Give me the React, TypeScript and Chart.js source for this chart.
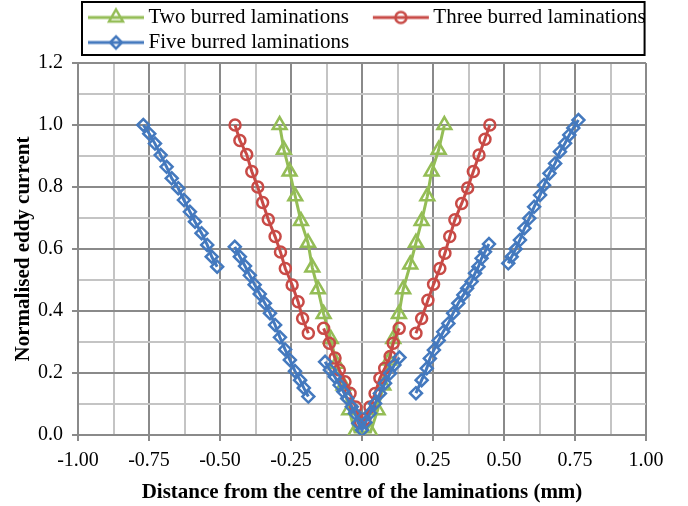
import React, { useEffect, useRef } from 'react';
import { Chart, registerables } from 'chart.js';

Chart.register(...registerables);

const FONT = "'Liberation Serif', 'Times New Roman', Times, serif";

const X_TITLE = 'Distance from the centre of the laminations (mm)';
const Y_TITLE = 'Normalised eddy current';
const SERIES_LABELS = ['Two burred laminations', 'Three burred laminations', 'Five burred laminations'];

const X_MIN = -1;
const X_MAX = 1;
const X_MINOR_STEP = 0.125;
const X_MAJOR_STEP = 0.25;
const Y_MIN = 0;
const Y_MAX = 1.2;
const Y_MINOR_STEP = 0.1;
const Y_MAJOR_STEP = 0.2;

// Two burred laminations (one continuous V)
const twoX = [-0.29, -0.275, -0.255, -0.235, -0.215, -0.19, -0.175, -0.155, -0.135, -0.11, -0.09, -0.065, -0.045, -0.025,
  0.03, 0.055, 0.075, 0.095, 0.11, 0.13, 0.145, 0.17, 0.19, 0.21, 0.23, 0.245, 0.27, 0.29];
const twoY = [1.0, 0.92, 0.85, 0.77, 0.69, 0.62, 0.54, 0.47, 0.39, 0.31, 0.23, 0.16, 0.08, 0.01,
  0.01, 0.08, 0.16, 0.24, 0.31, 0.39, 0.47, 0.55, 0.62, 0.69, 0.77, 0.85, 0.92, 1.0];

// Three burred laminations (three segments)
const threeOuterLeftX = [-0.447, -0.43, -0.406, -0.388, -0.367, -0.35, -0.33, -0.306, -0.287, -0.27, -0.246, -0.225, -0.209, -0.189];
const threeOuterLeftY = [1.0, 0.95, 0.905, 0.85, 0.8, 0.75, 0.695, 0.64, 0.59, 0.537, 0.484, 0.43, 0.376, 0.328];
const threeMiddleX = [-0.135, -0.115, -0.095, -0.08, -0.06, -0.042, -0.022, -0.005, 0.01, 0.028, 0.046, 0.063, 0.08, 0.099, 0.11, 0.131];
const threeMiddleY = [0.344, 0.296, 0.248, 0.21, 0.172, 0.135, 0.09, 0.04, 0.05, 0.09, 0.134, 0.183, 0.215, 0.253, 0.296, 0.344];
const threeOuterRightX = [0.19, 0.21, 0.232, 0.252, 0.274, 0.292, 0.309, 0.327, 0.351, 0.372, 0.392, 0.412, 0.433, 0.45];
const threeOuterRightY = [0.328, 0.376, 0.435, 0.486, 0.537, 0.586, 0.64, 0.694, 0.747, 0.797, 0.85, 0.903, 0.954, 1.0];

// Five burred laminations (five segments)
const fiveOuterLeftX = [-0.77, -0.749, -0.729, -0.709, -0.688, -0.67, -0.647, -0.627, -0.606, -0.588, -0.565, -0.545, -0.529, -0.51];
const fiveOuterLeftY = [1.0, 0.972, 0.94, 0.903, 0.865, 0.828, 0.796, 0.758, 0.72, 0.688, 0.651, 0.613, 0.575, 0.543];
const fiveInnerLeftX = [-0.448, -0.43, -0.412, -0.395, -0.378, -0.36, -0.342, -0.324, -0.306, -0.289, -0.271, -0.254, -0.236, -0.218, -0.205, -0.189];
const fiveInnerLeftY = [0.607, 0.575, 0.545, 0.515, 0.485, 0.455, 0.425, 0.393, 0.355, 0.315, 0.276, 0.242, 0.206, 0.177, 0.152, 0.124];
const fiveMiddleX = [-0.13, -0.113, -0.096, -0.079, -0.066, -0.052, -0.036, -0.025, -0.013, 0.0, 0.012, 0.028, 0.046, 0.063, 0.081, 0.099, 0.114, 0.132];
const fiveMiddleY = [0.236, 0.21, 0.188, 0.161, 0.14, 0.118, 0.091, 0.07, 0.038, 0.016, 0.04, 0.07, 0.102, 0.134, 0.167, 0.199, 0.226, 0.25];
const fiveInnerRightX = [0.19, 0.21, 0.228, 0.239, 0.253, 0.27, 0.286, 0.304, 0.321, 0.339, 0.357, 0.37, 0.386, 0.398, 0.41, 0.421, 0.433, 0.447];
const fiveInnerRightY = [0.135, 0.177, 0.215, 0.247, 0.274, 0.305, 0.333, 0.36, 0.393, 0.425, 0.452, 0.473, 0.495, 0.522, 0.543, 0.57, 0.591, 0.616];
const fiveOuterRightX = [0.515, 0.527, 0.541, 0.556, 0.572, 0.589, 0.606, 0.627, 0.641, 0.66, 0.68, 0.697, 0.715, 0.73, 0.744, 0.762];
const fiveOuterRightY = [0.554, 0.575, 0.6, 0.629, 0.667, 0.699, 0.736, 0.774, 0.806, 0.844, 0.876, 0.914, 0.941, 0.968, 0.99, 1.016];

const GREEN = '#94BD56';
const RED = '#C84A46';
const BLUE = '#4479BE';
const GRID_MAJOR = '#8a8a8a';
const GRID_MINOR = '#c4c4c4';

type Seg = { x: number[]; y: number[] };

const toData = (segs: Seg[]) => {
  const out: any[] = [];
  segs.forEach((s, i) => {
    if (i > 0) out.push({ x: null, y: null });
    s.x.forEach((x, j) => out.push({ x, y: s.y[j] }));
  });
  return out;
};

const isMultiple = (v: number, step: number) => Math.abs(v / step - Math.round(v / step)) < 1e-6;

const makeLegendImage = (color: string, style: string) => {
  const c = document.createElement('canvas');
  c.width = 88;
  c.height = 22;
  const g = c.getContext('2d')!;
  g.strokeStyle = color;
  g.lineWidth = 3;
  g.beginPath();
  g.moveTo(29, 11);
  g.lineTo(85, 11);
  g.stroke();
  g.lineWidth = 2.5;
  const cx = 57;
  const cy = 11;
  g.beginPath();
  if (style === 'triangle') {
    const r = 8;
    g.moveTo(cx, cy - r);
    g.lineTo(cx + r * 0.866, cy + r * 0.5);
    g.lineTo(cx - r * 0.866, cy + r * 0.5);
    g.closePath();
  } else if (style === 'circle') {
    g.arc(cx, cy, 5.5, 0, Math.PI * 2);
  } else {
    const r = 6;
    g.moveTo(cx, cy - r);
    g.lineTo(cx + r, cy);
    g.lineTo(cx, cy + r);
    g.lineTo(cx - r, cy);
    g.closePath();
  }
  g.stroke();
  return c;
};

const legendShiftPlugin = {
  id: 'legendShift',
  afterLayout(chart: any) {
    const lg = chart.legend;
    if (lg) {
      lg.left = 64;
      lg.right = chart.width;
    }
  },
  afterDraw(chart: any) {
    const lg = chart.legend;
    if (!lg || !lg.legendHitBoxes || !lg.legendHitBoxes.length) return;
    const hb = lg.legendHitBoxes;
    const left = hb[0].left + 14;
    const right = Math.max(...hb.map((h: any) => h.left + h.width)) - 1;
    const top = hb[0].top - 5;
    const last = hb[hb.length - 1];
    const bottom = last.top + last.height + 2;
    const ctx = chart.ctx;
    ctx.save();
    ctx.strokeStyle = '#000';
    ctx.lineWidth = 2;
    ctx.strokeRect(left, top, right - left, bottom - top);
    ctx.restore();
  },
};

export default function App() {
  const ref = useRef<HTMLCanvasElement | null>(null);

  useEffect(() => {
    if (!ref.current) return;
    const legendImages = [
      makeLegendImage(GREEN, 'triangle'),
      makeLegendImage(RED, 'circle'),
      makeLegendImage(BLUE, 'diamond'),
    ];
    const chart = new Chart(ref.current, {
      type: 'line',
      data: {
        datasets: [
          {
            label: SERIES_LABELS[0],
            data: toData([{ x: twoX, y: twoY }]),
            borderColor: GREEN,
            borderWidth: 3,
            pointStyle: 'triangle',
            pointRadius: 8,
            pointBorderWidth: 2.5,
            pointBorderColor: GREEN,
            pointBackgroundColor: 'rgba(0,0,0,0)',
            order: 3,
          },
          {
            label: SERIES_LABELS[1],
            data: toData([
              { x: threeOuterLeftX, y: threeOuterLeftY },
              { x: threeMiddleX, y: threeMiddleY },
              { x: threeOuterRightX, y: threeOuterRightY },
            ]),
            borderColor: RED,
            borderWidth: 3,
            pointStyle: 'circle',
            pointRadius: 5.5,
            pointBorderWidth: 2.5,
            pointBorderColor: RED,
            pointBackgroundColor: 'rgba(0,0,0,0)',
            order: 2,
          },
          {
            label: SERIES_LABELS[2],
            data: toData([
              { x: fiveOuterLeftX, y: fiveOuterLeftY },
              { x: fiveInnerLeftX, y: fiveInnerLeftY },
              { x: fiveMiddleX, y: fiveMiddleY },
              { x: fiveInnerRightX, y: fiveInnerRightY },
              { x: fiveOuterRightX, y: fiveOuterRightY },
            ]),
            borderColor: BLUE,
            borderWidth: 3,
            pointStyle: 'rectRot',
            pointRadius: 6,
            pointBorderWidth: 2.5,
            pointBorderColor: BLUE,
            pointBackgroundColor: 'rgba(0,0,0,0)',
            order: 1,
          },
        ] as any,
      },
      options: {
        animation: false,
        responsive: false,
        events: [],
        spanGaps: false,
        elements: { line: { tension: 0 } },
        layout: { padding: { left: 0, right: 42, top: 3, bottom: 0 } },
        plugins: {
          tooltip: { enabled: false },
          legend: {
            display: true,
            position: 'top',
            align: 'start',
            labels: {
              usePointStyle: true,
              pointStyleWidth: 70,
              padding: 4,
              color: '#000',
              textAlign: 'left',
              font: { family: FONT, size: 21 },
              generateLabels: (ch: any) =>
                ch.data.datasets.map((ds: any, i: number) => ({
                  text: ds.label,
                  pointStyle: legendImages[i],
                  fillStyle: 'rgba(0,0,0,0)',
                  strokeStyle: ds.borderColor,
                  lineWidth: 0,
                  hidden: false,
                  datasetIndex: i,
                  fontColor: '#000',
                })),
            },
          },
        },
        scales: {
          x: {
            type: 'linear',
            min: X_MIN,
            max: X_MAX,
            afterFit: (s: any) => {
              s.height = 71;
            },
            ticks: {
              stepSize: X_MINOR_STEP,
              autoSkip: false,
              maxRotation: 0,
              padding: 8,
              color: '#000',
              font: { family: FONT, size: 20 },
              callback: (v: any) => (isMultiple(Number(v), X_MAJOR_STEP) ? Number(v).toFixed(2) : ''),
            },
            grid: {
              color: (c: any) => (c.tick && isMultiple(c.tick.value, X_MAJOR_STEP) ? GRID_MAJOR : GRID_MINOR),
              tickColor: (c: any) => (c.tick && isMultiple(c.tick.value, X_MAJOR_STEP) ? GRID_MAJOR : 'rgba(0,0,0,0)'),
              lineWidth: 2,
              tickLength: 6,
              drawTicks: true,
            },
            border: { display: true, color: GRID_MAJOR, width: 2 },
            title: {
              display: true,
              text: X_TITLE,
              color: '#000',
              font: { family: FONT, size: 21, weight: 'bold' },
              padding: { top: 0, bottom: 1 },
            },
          },
          y: {
            type: 'linear',
            min: Y_MIN,
            max: Y_MAX,
            afterFit: (s: any) => {
              s.width = 78;
            },
            ticks: {
              stepSize: Y_MINOR_STEP,
              autoSkip: false,
              padding: 9,
              color: '#000',
              font: { family: FONT, size: 20 },
              callback: (v: any) => (isMultiple(Number(v), Y_MAJOR_STEP) ? Number(v).toFixed(1) : ''),
            },
            grid: {
              color: (c: any) => (c.tick && isMultiple(c.tick.value, Y_MAJOR_STEP) ? GRID_MAJOR : GRID_MINOR),
              tickColor: (c: any) => (c.tick && isMultiple(c.tick.value, Y_MAJOR_STEP) ? GRID_MAJOR : 'rgba(0,0,0,0)'),
              lineWidth: 2,
              tickLength: 6,
              drawTicks: true,
            },
            border: { display: true, color: GRID_MAJOR, width: 2 },
            title: {
              display: true,
              text: Y_TITLE,
              color: '#000',
              font: { family: FONT, size: 21, weight: 'bold' },
              padding: { top: 11, bottom: 0 },
            },
          },
        },
      } as any,
      plugins: [legendShiftPlugin],
    });
    return () => chart.destroy();
  }, []);

  return (
    <canvas
      ref={ref}
      width={688}
      height={506}
      style={{ position: 'absolute', left: 0, top: 0, width: 688, height: 506, display: 'block', background: '#fff' }}
    />
  );
}
